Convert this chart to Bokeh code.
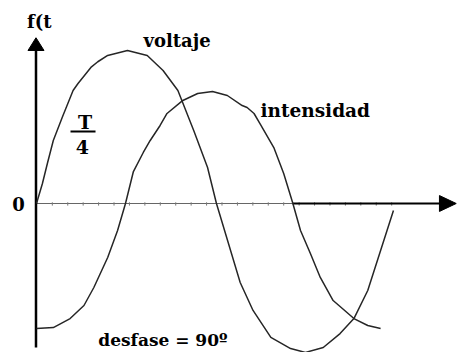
import numpy as np
from bokeh.plotting import figure
from bokeh.models import Range1d
from bokeh.core.properties import value
from bokeh.embed import file_html
from bokeh.resources import INLINE

# Phase in degrees (one period = 360), amplitude in units of the voltage peak
volt_phase = [0, 6, 11, 17, 26, 37, 42, 55, 62, 72, 92, 112, 128, 143, 159, 173,
              182, 206, 219, 237, 257, 272, 290, 307, 321, 335, 348, 361]
volt_value = [0.0, 0.133, 0.267, 0.42, 0.573, 0.753, 0.80, 0.907, 0.945, 0.987,
              1.02, 0.987, 0.887, 0.753, 0.487, 0.24, 0.0, -0.527, -0.713,
              -0.893, -0.967, -0.993, -0.96, -0.867, -0.767, -0.58, -0.313, -0.047]

curr_phase = [0, 17, 34, 48, 58, 72, 82, 90, 98, 108, 115, 125, 132, 148, 163,
              178, 193, 208, 213, 220, 226, 240, 250, 259, 267, 277, 287, 300,
              321, 335, 348]
curr_value = [-0.833, -0.827, -0.767, -0.68, -0.56, -0.36, -0.18, 0.0, 0.213,
              0.34, 0.42, 0.52, 0.6, 0.687, 0.733, 0.747, 0.72, 0.653, 0.64,
              0.6, 0.533, 0.373, 0.2, 0.007, -0.18, -0.333, -0.493, -0.647,
              -0.767, -0.813, -0.833]

label_voltage = "voltaje"
label_current = "intensidad"
label_axis = "f(t"
label_zero = "0"
label_quarter_top = "T"
label_quarter_bottom = "4"
label_shift = "desfase = 90º"

W, H = 469, 352
p = figure(width=W, height=H, output_backend="svg", toolbar_location=None,
           x_axis_type=None, y_axis_type=None, min_border=0,
           outline_line_color=None, background_fill_color="white",
           border_fill_color="white")
p.x_range = Range1d(-36.4, 437.9)
p.y_range = Range1d(-0.9933, 1.3533)
p.xgrid.visible = False
p.ygrid.visible = False

# horizontal time axis: thin ticked baseline plus a heavier arrow shaft
p.line([0, 360], [0, 0], line_color="#666666", line_width=1.2)
tick_x = np.arange(16, 360, 15.6)
p.segment(x0=tick_x, y0=[-0.014] * len(tick_x), x1=tick_x, y1=[0.008] * len(tick_x),
          line_color="#777777", line_width=1)
p.line([259, 410], [0, 0], line_color="black", line_width=2)
p.patch([407.5, 424.5, 407.5], [0.053, 0.0, -0.053], fill_color="black",
        line_color="black")

# vertical f(t) axis with arrow
p.line([-0.5, -0.5], [-0.96, 1.03], line_color="black", line_width=2.5)
p.patch([-8.6, -0.5, 7.6], [1.02, 1.105, 1.02], fill_color="black",
        line_color="black")

# curves
p.line(volt_phase, volt_value, line_color="#262626", line_width=1.5)
p.line(curr_phase, curr_value, line_color="#262626", line_width=1.5)

# quarter-period fraction bar
p.line([34.4, 59.7], [0.48, 0.48], line_color="black", line_width=1.8)

font = value("DejaVu Serif")
dy = 0.035  # lift the alphabetic baselines slightly
common = dict(text_font=font, text_font_style="bold", text_color="black")
p.text(x=[108.2], y=[1.053 + dy], text=[label_voltage], text_font_size="18px",
       text_baseline="alphabetic", text_align="left", **common)
p.text(x=[226.5], y=[0.587 + dy], text=[label_current], text_font_size="18.5px",
       text_baseline="alphabetic", text_align="left", **common)
p.text(x=[-9.5], y=[1.175 + dy], text=[label_axis], text_font_size="18px",
       text_baseline="alphabetic", text_align="left", **common)
p.text(x=[-18.2], y=[0.0], text=[label_zero], text_font_size="18px",
       text_baseline="middle", text_align="center", **common)
p.text(x=[49.0], y=[0.507 + dy], text=[label_quarter_top], text_font_size="19px",
       text_baseline="alphabetic", text_align="center", **common)
p.text(x=[46.5], y=[0.34 + dy], text=[label_quarter_bottom], text_font_size="19px",
       text_baseline="alphabetic", text_align="center", **common)
p.text(x=[62.5], y=[-0.947 + dy], text=[label_shift], text_font_size="17px",
       text_baseline="alphabetic", text_align="left", **common)

open("out.html", "w").write(file_html(p, INLINE))
